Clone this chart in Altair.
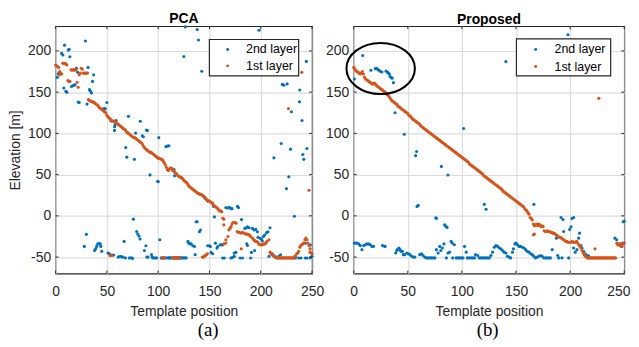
import altair as alt
import pandas as pd

LAYER_NAMES = ["2nd layer", "1st layer"]
COLORS = ["#0072BD", "#D95319"]
X_TICKS = [0, 50, 100, 150, 200, 250]
Y_TICKS = [-50, 0, 50, 100, 150, 200]
X_DOMAIN = [0, 250]
Y_DOMAIN = [-70, 230]
PANEL_TITLES = ["PCA", "Proposed"]
SUB_LABELS = ["(a)", "(b)"]
X_TITLE = "Template position"
Y_TITLE = "Elevation [m]"
ELLIPSE_X = [24.9]
ELLIPSE_Y = [178.7]

# ---------------- PCA panel: 1st layer (orange) ----------------
PCA_1ST_HEAD = [(0,183),(1,182),(2,181),(3,180),(4,175),(4,171),(5,173),(6,172),(7,185),(8,185),
                (9,185),(10,184),(11,183),(12,164),(13,163),(14,163),(15,177),(16,177),(17,177),
                (18,177),(19,177),(20,177),(21,162),(22,156),(23,171),(24,173),(25,179),(26,178),
                (27,173),(28,173),(29,173),(30,173),(31,173)]
PCA_1ST_DIAG_X0 = 32
PCA_1ST_DIAG_Y = [141,140,139,139,138,138,137,136,135,134,
                  132,131,130,129,128,127,126,125,122,120,
                  119,118,116,115,115,114,114,113,112,111,
                  110,109,108,107,106,105,104,102,101,100,
                  99,98,97,96,95,95,94,93,92,91,
                  90,89,88,86,84,82,81,80,79,78,
                  77,77,76,75,74,73,72,71,70,70,
                  69,69,68,66,64,62,59,56,55,57,
                  58,58,56,55,53,52,51,49,48,47,
                  47,46,45,43,42,41,40,38,36,35,
                  34,33,32,31,30,29,28,27,27,26,
                  26,25,24,23,21,20,19,18,18,17,
                  16,15,13,12,11,10,9,7,6,6,
                  5]
PCA_1ST_CLUSTER = [(163,-3),(164,-11),(164,-4),(164,-34),(166,-33),(166,-29),(168,-25),(169,-17),
                   (170,-15),(171,-13),(172,-10),(173,-8),(174,-8),(175,-8),(176,-9),(177,-19),
                   (178,-20),(179,-20),(181,-21),(182,-20),(184,-21),(185,-22),(186,-22),(187,-22),
                   (188,-23),(189,-23),(190,-25),(192,-27),(193,-29),(194,-30),(195,-31),(196,-31),
                   (197,-32),(198,-34),(199,-35),(200,-35),(201,-35),(202,-35),(203,-34),(204,-34),
                   (205,-33),(206,-31),(208,-29),(181,-40)]
PCA_1ST_BOTTOM = [(53,-48),(54,-48),(55,-48),(104,-51),(105,-51),(106,-51),(114,-51),(115,-51),
                  (116,-51),(117,-51),(118,-51),(119,-51),(120,-51),(121,-51),(143,-50),(144,-50),
                  (145,-49),(146,-48),(147,-47),(148,-46)]
PCA_1ST_TAIL = [(209,-44),(210,-46),(211,-47),(212,-48),(213,-49),(214,-50),(215,-50),(216,-50),
                (217,-51),(218,-51),(219,-51),(220,-51),(221,-51),(222,-51),(223,-51),(224,-51),
                (225,-51),(226,-51),(227,-51),(228,-51),(229,-51),(230,-51),(231,-51),(232,-51),
                (233,-49),(234,-49),(235,-46),(236,-45),(237,-43),(238,-38),(239,-36),(240,-35),
                (241,-34),(242,-33),(243,-29),(244,-27),(245,-29),(246,-33),(247,-36),(248,-40),
                (248,-44),(249,-45),(250,-46)]
PCA_1ST_OUTLIERS = [(247,31),(227,130),(240,174)]

# ---------------- PCA panel: 2nd layer (blue) ----------------
PCA_2ND = [(1.6,168),(2.6,172),(3.2,173),(5.8,197),(7.1,195),(8,155),(8.7,207),(10,151),(11,150),
           (12.3,201),(13.2,202),(13.9,193),(15.5,157),(17,158),(18,158.5),(19,159),(20.3,179),
           (21.5,174),(22,138),(23,137.5),(29,212),(30.6,135.5),(31.6,180),(33,153),(34,151),
           (35,149),(36,163),(37,171),(47,130),(48.4,130),(50,137.5),(54,115),(56.5,115),
           (57.4,103.6),(57.5,108),(58,110.5),(59,115.5),(68.4,82.9),(69.4,71.2),(71,120.7),
           (76.8,68.5),(78,100.4),(82.6,114.7),(84.5,97),(85.5,96),(88.5,104),(89.5,103.4),
           (92,49.7),(99.5,42),(100,41.5),(100.6,94.8),(107.5,84),(109,84.5),(110.5,85),
           (114,55.3),(115.5,56),(116,48.5),
           (125,193.3),(126.4,229.1),(138,226),(139.3,213.2),(142.5,175.3),(198.3,225.1),
           (212.8,70.4),(219.9,87.7),(221,159.4),(222.5,158.5),(225,33),(225.7,160),(227.3,47.3),
           (229,80.9),(229.9,126.3),(232.8,-0.5),(237.7,138.3),(238,152.6),(240.2,115.6),
           (241,74.4),(242,68.5),(244.4,187.3),(245,81.7),
           (144.4,23.4),(145.7,21.8),(148.3,17.9),(153,15.5),(154,11.5),(154.8,-1.3),(166,10),
           (167.6,9.6),(169.3,10.4),(170.9,8.7),(171.9,8.7),(177.3,11.5),(178.3,10),(137,-7.2),
           (138,-7.2),(140.2,-19.2),(141.2,-17.2),(181.2,-4.5),
           (28,-37),(30,-22.4),(38,-42),(39,-40),(40,-37),(41,-34),(42.5,-33.5),(43.5,-34),
           (44,-37),(45,-43),(51,-45),(52.5,-46),(55,-47.5),(56.5,-47.5),(61,-50),(62.5,-49.5),
           (64,-49.5),(65.5,-50),(66.8,-31),(68,-51),(72,-51),(74,-51),(75,-51.5),(75.8,-4),
           (79,-19),(80,-22),(81.3,-24.5),(82.3,-28),(86.5,-42),(88,-36.3),(89,-50),(90,-50),
           (93.5,-47),(94,-50),(95,-51),(96.8,-51),(98.4,-51),(101.6,-29),(103,-51),(104,-51),
           (106,-51),(108,-51),(110,-51),(111,-51),(112,-51),(113,-51),(115,-51),(116,-51),
           (117,-51),(118,-51),(119,-51),(120,-51),(121,-51),(122,-51),(123,-51),(124.5,-51),
           (126,-51),(127.3,-51),
           (129,-31),(129.6,-33),(131,-34),(132.2,-34),(133.8,-36.3),(135.4,-37.1),(136,-47),
           (148.3,-36.3),(149.9,-36.3),(150.9,-37.1),(151.5,-44.3),(153.1,-45.9),(155.7,-33.1),
           (157.3,-39.1),(158,-37.1),(160.5,-35.1),(161.9,-35.1),(162.8,-35.1),(162.8,-51.1),
           (164.4,-51.1),(170.9,-51.1),(172.5,-50.3),(174.1,-49.1),(174.1,-45.1),(175.7,-44.3),
           (179.9,-51.1),(182.2,-51.1),(184.4,-15.2),(186,-14.4),(187,-13.2),(188.6,-14.4),
           (191.9,-15.2),(193.5,-17.2),(195.1,-16.4),(196.7,-19.2),(197.3,-26),(199.3,-27.2),
           (200.6,-28.4),(201.5,-30.4),(190.2,-51.1),(190.9,-44.3),(194,-42),(186.4,-33.9),
           (187,-35.9),(202.5,-25.2),(203.8,-23.2),(205.7,-20.4),(207,-19.2),(209,-14.4),
           (208,-49.1),(211.2,-45.9),(212.8,-48.3),(214.4,-50.3),(216,-51.1),(217.7,-49.1),
           (219.3,-47.1),(232.2,-51.1),(233.8,-51.1),(237,-51.1),(239.3,-51.1),(243.5,-51.1),
           (245.1,-51.1),(248.3,-51.1),(249.9,-49.1),(243.5,-33.1),(248.3,-35.1)]

# ---------------- Proposed panel: 1st layer (orange), one value per position 0..250 ----------------
PROP_1ST_Y = [180,178,176,175,174,173,172,173,175,172,
              168,166,165,164,163,162,161,160,160,161,
              160,158,157,156,155,154,153,152,151,150,
              149,147,146,144,142,140,139,138,137,136,
              135,133,132,131,130,129,128,127,126,125,
              124,122,121,120,118,117,116,115,114,113,
              112,111,109,108,107,106,105,104,103,102,
              101,100,99,98,97,96,95,94,93,92,
              91,90,89,88,87,86,85,84,83,82,
              81,80,79,78,77,76,75,74,73,72,
              71,70,69,68,67,66,65,63,62,61,
              60,59,58,57,56,55,54,53,52,51,
              49,48,47,46,45,44,43,42,41,40,
              39,38,37,36,35,34,33,32,30,29,
              28,27,26,25,24,23,22,21,20,19,
              18,17,16,15,14,13,12,11,9,7,
              6,4,2,-2,-3,-5,-10,-12,-11,-10,
              -12,-10,-11,-13,-12,-13,-18,-19,-19,-18,
              -19,-19,-20,-20,-21,-21,-22,-23,-24,-25,
              -26,-26,-27,-28,-29,-30,-31,-31,-32,-32,
              -32,-32,-31,-32,-32,-32,-31,-33,-35,-37,
              -39,-42,-45,-47,-49,-50,-51,-51,-51,-51,
              -51,-51,-51,-51,-51,-51,-51,-51,-51,-51,
              -51,-51,-51,-51,-51,-51,-51,-51,-51,-51,
              -51,-51,-51,-33,-35,-34,-36,-35,-37,-34,
              -33]
PROP_1ST_EXTRA = [(166,-23),(167,-22),(223,-40),(226.5,142.5)]

# ---------------- Proposed panel: 2nd layer (blue) ----------------
PROP_2ND = [(0.6,166),(8.3,194.5),(15.9,176.5),(19.9,178.5),(20.8,179),(22,178),(23.2,176.5),
            (24.4,175.5),(26,174.5),(29.9,175.5),(31.2,174.5),(32,173),(33,172),(33.6,169),
            (34.5,168),(35.5,167),(36.7,161.5),(38.2,125),(46.8,99),(101.6,106),(57.2,73),
            (58.1,78),(81,60),(87.1,49.5),(140.6,187),(198,219.6),
            (58.5,11.5),(59.6,12.7),(75.8,-2.5),(76.5,-3),(84,-11),(85,-12.5),(86.2,-14),
            (120.7,14),(122.3,8),(166.5,14),(191.6,-2),(193.4,-4.5),(194,-19),(199.6,-16.4),
            (200.8,-13.2),(201.7,-3.3),(203.2,-2),(187.3,-27),(207.8,-27),(208.7,-21),(249.1,-7),
            (250,-6.5),(241.4,-27),(243,-29),
            (0.5,-33),(1.5,-33),(3,-33),(4.6,-34),(6.1,-36),(7.6,-41),(9.2,-36),(10.7,-35),
            (12.2,-34),(13.8,-34),(15.3,-35),(16.8,-37),(18.3,-37),(26.6,-36),(28,-36.5),(29,-37),
            (38.8,-45),(39.7,-42),(40.6,-40.5),(41.8,-39),(42.8,-41),(43.7,-43),(45,-43),
            (45.8,-47),(47,-47),(49,-45),(50.4,-46),(52,-47),(53.5,-49),(55,-50),(56.5,-50),
            (61,-47),(62.6,-46),(64,-48),(65.7,-50),(67.2,-51),(68.8,-51),(70.3,-51),(71.8,-51),
            (73.3,-51),(75,-51),(76.4,-41),(78,-45),(79.5,-37),(80.5,-42),(81.9,-39),(83.4,-34),
            (85.6,-51),(87.1,-45),(88.6,-44),(90,-31),(91,-33),(93,-35),(91.5,-51),(94.7,-51),
            (96.2,-51),(97.8,-51),(99.3,-51),(100.9,-51),(102.4,-37),(104,-44),(105,-51),
            (106.7,-51),(108.3,-51),(110,-51),(111.6,-51),(112.5,-47),(114.6,-48),(116,-51),
            (117.7,-51),(119.2,-51),(120.7,-51),(122.3,-51),(123.8,-51),(125.3,-51),(126.8,-48),
            (128.3,-44),(129.9,-38),(131.4,-36),(133,-37),(134.5,-39),(136,-40),(137.5,-42),
            (139,-44),(140.6,-45),(142,-49),(143.6,-50),(145,-51),(146.7,-44),(147.6,-40),
            (149,-34),(150,-33),(151.3,-35),(152.8,-37),(154.3,-37),(155.8,-38),(157.4,-39),
            (158.9,-41),(160.4,-43),(162,-44),(163.5,-46),(165,-47),(166.5,-49),(168,-51),
            (169.6,-50),(171.2,-49),(172.7,-48),(174.2,-49),(175.7,-51),(177.3,-51),(178.8,-51),
            (180.3,-51),(181.8,-51),(183.4,-41),(188.5,-48),(189.5,-51),(192.5,-51),(198.6,-51),
            (203.2,-39),(204.7,-44),(206.3,-41),(210,-36),(211,-39),(212.4,-43),(214,-46),
            (215.5,-48),(217,-48.5),(244.5,-35),(246,-34),(247.5,-37),(248.5,-33)]

# ---------------- assemble series ----------------
pca_first = (PCA_1ST_HEAD
             + [(PCA_1ST_DIAG_X0 + i, v) for i, v in enumerate(PCA_1ST_DIAG_Y)]
             + PCA_1ST_CLUSTER + PCA_1ST_BOTTOM + PCA_1ST_TAIL + PCA_1ST_OUTLIERS)
prop_first = [(i, v) for i, v in enumerate(PROP_1ST_Y)] + PROP_1ST_EXTRA

FONT = "Liberation Sans"
INK = "#262626"
H = 249.4
W_LEFT = 258.5
W_RIGHT = 272.7
ELLIPSE_PATH = "M -1.337 0 A 1.337 1 0 1 1 1.337 0 A 1.337 1 0 1 1 -1.337 0 Z"


def panel(second, first, width, title, show_ytitle, legend, sub, ellipse, last_label_shift):
    df = pd.DataFrame({
        "x": [p[0] for p in second] + [p[0] for p in first],
        "y": [p[1] for p in second] + [p[1] for p in first],
        "layer": [LAYER_NAMES[0]] * len(second) + [LAYER_NAMES[1]] * len(first),
    })
    xs = alt.Scale(domain=X_DOMAIN, nice=False, zero=False)
    ys = alt.Scale(domain=Y_DOMAIN, nice=False, zero=False)
    xaxis = alt.Axis(values=X_TICKS, title=X_TITLE, grid=True, ticks=False, domain=False,
                     labelFlush=False, labelPadding=11, minExtent=24, maxExtent=24,
                     titlePadding=7, labelExpr="'' + datum.value",
                     labelOffset={"condition": {"test": "datum.value == 250",
                                                "value": last_label_shift}, "value": 0})
    yaxis = alt.Axis(values=Y_TICKS, title=Y_TITLE if show_ytitle else "", grid=True,
                     ticks=False, domain=False, labelPadding=5, minExtent=30, maxExtent=30,
                     titlePadding=3, labelExpr="'' + datum.value")
    layers = []
    layers.append(alt.Chart(df).mark_circle(size=10, opacity=1).encode(
        x=alt.X("x:Q", scale=xs, axis=xaxis),
        y=alt.Y("y:Q", scale=ys, axis=yaxis),
        color=alt.Color("layer:N", scale=alt.Scale(domain=LAYER_NAMES, range=COLORS), legend=None),
    ))
    xt = pd.DataFrame({"x": X_TICKS})
    yt = pd.DataFrame({"y": Y_TICKS})
    layers.append(alt.Chart(xt).mark_rule(color=INK, strokeWidth=1).encode(
        x=alt.X("x:Q", scale=xs, axis=xaxis), y=alt.value(H), y2=alt.value(H - 3)))
    layers.append(alt.Chart(xt).mark_rule(color=INK, strokeWidth=1).encode(
        x=alt.X("x:Q", scale=xs, axis=xaxis), y=alt.value(0), y2=alt.value(3)))
    layers.append(alt.Chart(yt).mark_rule(color=INK, strokeWidth=1).encode(
        y=alt.Y("y:Q", scale=ys, axis=yaxis), x=alt.value(0), x2=alt.value(3)))
    layers.append(alt.Chart(yt).mark_rule(color=INK, strokeWidth=1).encode(
        y=alt.Y("y:Q", scale=ys, axis=yaxis), x=alt.value(width), x2=alt.value(width - 3)))
    if ellipse:
        edf = pd.DataFrame({"x": ELLIPSE_X, "y": ELLIPSE_Y})
        layers.append(alt.Chart(edf).mark_point(shape=ELLIPSE_PATH, size=2663, filled=False,
                                                color="black", strokeWidth=2, opacity=1).encode(
            x=alt.X("x:Q", scale=xs, axis=xaxis), y=alt.Y("y:Q", scale=ys, axis=yaxis)))
    one = pd.DataFrame({"a": [0]})
    lx, ly, lw, lh, sdx, tdx, rows = legend
    layers.append(alt.Chart(one).mark_rect(fill="white", stroke=INK, strokeWidth=1.2).encode(
        x=alt.value(lx), x2=alt.value(lx + lw), y=alt.value(ly), y2=alt.value(ly + lh)))
    for i, name in enumerate(LAYER_NAMES):
        layers.append(alt.Chart(one).mark_circle(size=9, color=COLORS[i], opacity=1).encode(
            x=alt.value(lx + sdx), y=alt.value(ly + rows[i])))
        layers.append(alt.Chart(one).mark_text(text=name, align="left", baseline="middle",
                                               font=FONT, fontSize=12.5, color="#000").encode(
            x=alt.value(lx + tdx), y=alt.value(ly + rows[i])))
    sx, sy, stext = sub
    layers.append(alt.Chart(one).mark_text(text=stext, align="center", baseline="middle",
                                           font="Liberation Serif", fontSize=19, color="#000").encode(
        x=alt.value(sx), y=alt.value(sy)))
    return alt.layer(*layers).properties(
        width=width, height=H,
        title=alt.TitleParams(text=title, fontSize=14, fontWeight="bold", font=FONT,
                              color="#000", anchor="middle", baseline="alphabetic", offset=-12))


left = panel(PCA_2ND, pca_first, W_LEFT, PANEL_TITLES[0], True,
             (155, 13.4, 90, 36.6, 18.4, 37, (10, 26.6)), (153.7, 306, SUB_LABELS[0]), False, 0)
right = panel(PROP_2ND, prop_first, W_RIGHT, PANEL_TITLES[1], False,
              (164, 12.7, 95, 37.3, 19.4, 38.4, (10.7, 28)), (135, 306, SUB_LABELS[1]), True, -6)

chart = alt.hconcat(left, right, spacing=41.5).properties(
    bounds="flush", padding={"left": 0, "top": 2, "right": 0, "bottom": -2}
).configure_view(stroke=INK, strokeWidth=1.2).configure_axis(
    labelFont=FONT, labelFontSize=14, labelColor=INK, titleFont=FONT, titleFontSize=14,
    titleFontWeight="normal", titleColor=INK, gridColor="#dcdcdc", gridWidth=1.2, gridOpacity=1
)

chart.save("out.html", embed_options={"renderer": "svg", "actions": False})
